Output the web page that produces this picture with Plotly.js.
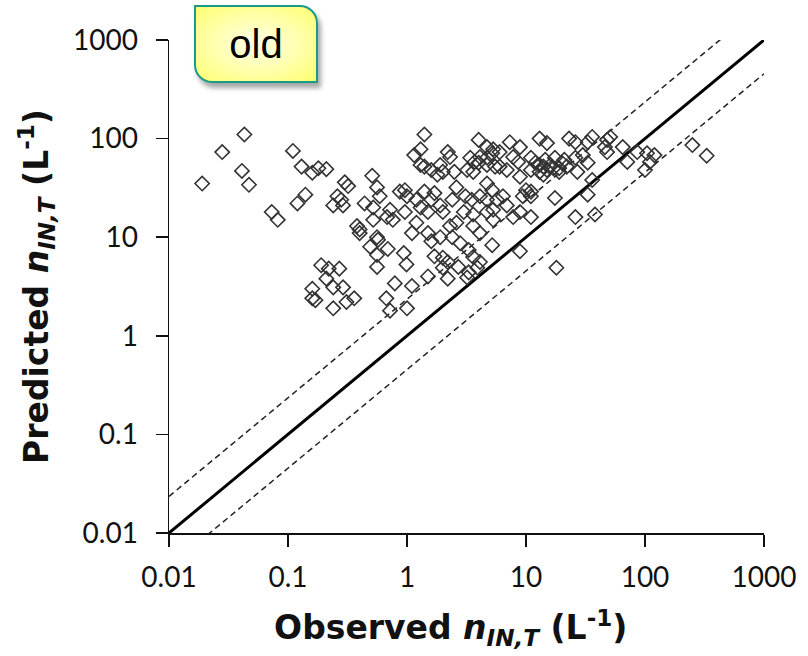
<!DOCTYPE html>
<html>
<head>
<meta charset="utf-8">
<script src="https://cdn.plot.ly/plotly-3.0.1.min.js"></script>
<style>
  html, body { margin: 0; padding: 0; background: #fff; }
  #wrap { position: relative; width: 808px; height: 656px; }
  #chart { position: absolute; left: 0; top: 0; width: 808px; height: 656px; }
  #oldbox {
    position: absolute; left: 194px; top: 5px; width: 120px; height: 74px;
    border: 2px solid #1a9a88;
    border-radius: 0 18px 0 18px;
    background: radial-gradient(ellipse at center, #ffffe6 0%, #ffffa8 55%, #ffff70 100%);
    box-shadow: 3px 5px 5px rgba(0,0,0,0.35);
    font-family: "Liberation Sans", Arial, sans-serif; font-size: 40px; color: #000;
    display: flex; align-items: center; justify-content: center;
    z-index: 10;
  }
</style>
</head>
<body>
<div id="wrap">
  <div id="chart"></div>
  <div id="oldbox">old</div>
</div>
<script>
// Observed n_IN,T (L^-1)
const observed = [
  0.043, 0.028, 0.11, 0.041, 0.019, 0.047, 0.13, 0.16, 0.18, 0.21,
  0.14, 0.12, 0.073, 0.082, 0.30, 0.32, 0.26, 0.24, 0.28, 0.29,
  0.38, 0.19, 0.22, 0.27, 0.21, 0.24, 0.29, 0.16, 0.16, 0.17,
  0.31, 0.36, 0.24, 0.40, 1.4, 4.0, 4.7, 5.3, 1.3, 1.15,
  2.2, 2.3, 3.4, 3.7, 4.1, 5.2, 1.3, 1.4, 1.6, 1.9,
  1.8, 2.0, 2.5, 3.2, 3.6, 4.0, 4.7, 5.5, 0.51, 0.56,
  0.59, 0.44, 0.52, 0.72, 0.87, 0.96, 1.0, 1.2, 1.4, 1.6,
  1.7, 1.9, 1.3, 0.96, 1.5, 2.0, 2.6, 3.1, 3.5, 2.4,
  4.1, 4.7, 5.2, 5.7, 3.0, 3.6, 4.7, 5.3, 2.3, 2.6,
  3.6, 4.1, 0.40, 0.52, 0.56, 0.76, 0.68, 1.2, 1.5, 1.9,
  1.1, 0.49, 0.57, 0.69, 0.56, 0.56, 0.94, 0.99, 0.79, 1.1,
  0.67, 0.72, 1.0, 1.5, 1.6, 1.7, 2.0, 2.2, 2.0, 2.2,
  2.7, 2.4, 2.8, 3.3, 3.6, 4.1, 3.9, 3.3, 3.2, 5.2,
  13, 15, 23, 26, 36, 33, 48, 46, 48, 65,
  71, 8.9, 7.3, 6.0, 11, 12, 14, 15, 17, 19,
  13, 11, 14.5, 20, 17.5, 22, 26, 30, 33, 27,
  7.8, 8.6, 6.0, 6.9, 4.7, 8.9, 10, 11, 9.4, 11,
  17.5, 36, 33, 6.4, 6.9, 4.7, 5.3, 7.8, 8.9, 11,
  26, 38, 51, 86, 104, 110, 120, 100, 250, 330,
  18, 8.9, 13, 16, 19, 14, 21
];
// Predicted n_IN,T (L^-1)
const predicted = [
  110, 73, 75, 47, 35, 34, 52, 45, 50, 49,
  27, 22, 18, 15, 36, 33, 26, 21, 24, 21,
  13, 5.2, 4.8, 4.8, 3.8, 3.1, 3.1, 3.0, 2.4, 2.3,
  2.2, 2.4, 1.9, 11, 110, 97, 82, 78, 78, 68,
  73, 65, 64, 58, 65, 71, 54, 52, 48, 54,
  43, 46, 46, 48, 46, 57, 54, 52, 42, 32,
  26, 22, 20, 19, 29, 30, 26, 24, 29, 24,
  28, 21, 20, 18, 18, 18, 32, 26, 24, 24,
  26, 35, 30, 24, 18, 17, 18, 15, 13, 14,
  13, 11, 12, 15, 10, 15, 16, 14, 11, 10,
  11, 8.0, 9.4, 7.6, 6.6, 5.0, 6.9, 5.3, 3.4, 3.2,
  2.4, 1.8, 1.9, 4.0, 9.1, 6.4, 6.2, 5.6, 4.9, 3.8,
  5.0, 10, 8.7, 7.4, 6.3, 5.6, 4.9, 4.4, 3.9, 8.3,
  100, 90, 100, 92, 104, 92, 97, 82, 73, 82,
  58, 82, 92, 73, 64, 57, 52, 48, 50, 46,
  46, 48, 61, 57, 64, 52, 64, 68, 57, 46,
  65, 58, 52, 48, 64, 41, 30, 29, 26, 26,
  25, 38, 27, 26, 21, 24, 19, 16, 18, 16,
  16, 17, 104, 73, 71, 58, 68, 48, 86, 67,
  4.9, 7.2, 54, 54, 50, 43, 61
];
// Reference lines: 1:1 and factor bands
const lineX = [0.01, 1000];
const upperFactor = 2.35;
const lowerFactor = 1 / 2.2;
const tickVals = [0.01, 0.1, 1, 10, 100, 1000];
const tickText = ["0.01", "0.1", "1", "10", "100", "1000"];

const traces = [
  {
    x: lineX, y: lineX.map(v => v * upperFactor), mode: 'lines', type: 'scatter',
    line: { color: '#222', width: 1.5, dash: '6px,4px' }, hoverinfo: 'skip', showlegend: false
  },
  {
    x: lineX, y: lineX.map(v => v * lowerFactor), mode: 'lines', type: 'scatter',
    line: { color: '#222', width: 1.5, dash: '6px,4px' }, hoverinfo: 'skip', showlegend: false
  },
  {
    x: lineX, y: lineX, mode: 'lines', type: 'scatter',
    line: { color: '#000', width: 3 }, hoverinfo: 'skip', showlegend: false
  },
  {
    x: observed, y: predicted, mode: 'markers', type: 'scatter',
    marker: { symbol: 'diamond-open', size: 11, color: '#333', line: { width: 1.6, color: '#333' } },
    showlegend: false
  }
];

const tickFont = { family: 'Lato, "Open Sans", sans-serif', size: 28, color: '#111' };
const titleFont = { family: '"DejaVu Sans", sans-serif', size: 33, color: '#111' };

const layout = {
  width: 808, height: 656,
  margin: { l: 169, r: 44, t: 40, b: 123 },
  paper_bgcolor: '#fff', plot_bgcolor: '#fff',
  showlegend: false,
  xaxis: {
    type: 'log', range: [-2, 3], showgrid: false, zeroline: false,
    showline: true, linecolor: '#111', linewidth: 1.5,
    ticks: 'outside', ticklen: 12, tickwidth: 1.5, tickcolor: '#111',
    tickvals: tickVals, ticktext: tickText, tickfont: tickFont, ticklabelstandoff: 7,
    title: { text: '<b>Observed <i>n</i><sub><i>IN,T</i></sub> (L<sup>-1</sup>)</b>&nbsp;&nbsp;&nbsp;', font: titleFont, standoff: 24 }
  },
  yaxis: {
    type: 'log', range: [-2, 3], showgrid: false, zeroline: false,
    showline: true, linecolor: '#111', linewidth: 1.5,
    ticks: 'outside', ticklen: 12, tickwidth: 1.5, tickcolor: '#111',
    tickvals: tickVals, ticktext: tickText, tickfont: tickFont, ticklabelstandoff: 12,
    title: { text: '<b>Predicted <i>n</i><sub><i>IN,T</i></sub> (L<sup>-1</sup>)</b>', font: titleFont, standoff: 14 }
  }
};

Plotly.newPlot('chart', traces, layout, { staticPlot: true, displayModeBar: false });
</script>
</body>
</html>
